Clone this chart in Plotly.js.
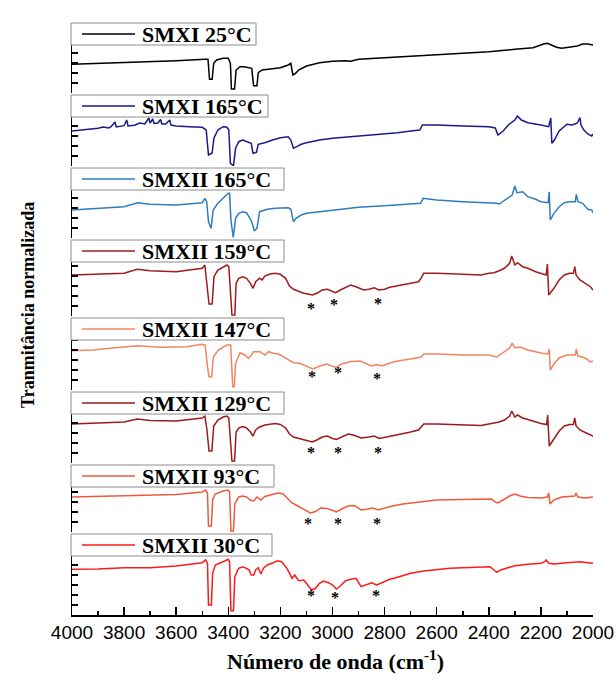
<!DOCTYPE html>
<html><head><meta charset="utf-8">
<script src="https://cdn.plot.ly/plotly-3.0.1.min.js"></script>
<style>html,body{margin:0;padding:0;background:#fff}#chart{width:616px;height:686px}</style>
</head><body><div id="chart"></div>
<script>
// ---- data (wavenumber cm-1, normalized transmittance a.u.) ----
const labels = ["SMXI 25°C","SMXI 165°C","SMXII 165°C","SMXII 159°C","SMXII 147°C","SMXII 129°C","SMXII 93°C","SMXII 30°C"];

const wn1 = [4000,3800,3600,3490,3478,3472,3462,3456,3445,3420,3400,3392,3388,3376,3370,3355,3340,3310,3303,3290,3285,3270,3240,3200,3170,3160,3152,3142,3130,3100,3050,3000,2950,2930,2900,2800,2700,2600,2500,2400,2300,2230,2190,2175,2160,2140,2120,2100,2060,2040,2020,2000];
const t1 = [2.87,3.03,3.23,3.37,3.37,1.37,1.37,2.97,3.3,3.47,3.47,2.97,0.4,0.4,2.3,2.63,2.63,2.47,0.73,0.73,2.03,2.3,2.37,2.53,2.8,2.97,1.8,1.97,2.3,2.7,3.03,3.17,3.23,3.17,3.37,3.53,3.7,3.87,4.03,4.13,4.37,4.53,4.9,4.97,4.8,4.57,4.47,4.53,4.7,4.9,4.9,4.8];

const wn2 = [4000,3950,3900,3880,3860,3850,3835,3830,3800,3790,3785,3760,3740,3720,3705,3700,3690,3685,3670,3660,3655,3640,3625,3620,3600,3550,3500,3485,3476,3462,3455,3440,3420,3405,3398,3392,3380,3372,3360,3345,3330,3312,3305,3292,3285,3260,3230,3200,3170,3160,3150,3138,3120,3100,3050,3000,2950,2900,2850,2800,2750,2700,2665,2655,2600,2500,2400,2375,2365,2345,2325,2300,2290,2275,2250,2200,2170,2162,2158,2148,2130,2100,2080,2060,2050,2046,2035,2020,2005,2000];
const t2 = [3.5,3.6,3.77,3.9,3.8,3.93,4.4,3.9,4.03,4.6,4.0,4.07,4.3,4.2,4.8,4.3,4.7,4.25,4.3,4.65,4.2,4.2,4.6,4.1,4.0,3.93,3.87,3.6,1.1,1.3,2.8,3.6,3.93,3.87,3.6,0.27,0.03,1.77,2.43,2.6,2.43,2.27,1.27,1.37,2.17,2.33,2.6,2.83,2.93,2.6,1.77,1.93,2.17,2.33,2.6,2.77,2.87,3.03,3.1,3.2,3.33,3.5,3.6,4.1,4.1,4.0,3.93,3.8,3.1,3.5,4.1,4.6,5.0,4.6,4.33,4.1,3.93,4.8,2.27,2.6,3.5,4.17,4.1,4.3,4.85,4.1,3.6,3.2,3.0,3.2];

const wn3 = [4000,3900,3800,3748,3700,3600,3500,3490,3483,3476,3466,3458,3440,3420,3400,3395,3390,3381,3372,3360,3345,3330,3310,3300,3290,3280,3250,3220,3180,3170,3160,3150,3140,3120,3100,3050,3000,2950,2900,2800,2700,2662,2652,2600,2500,2400,2370,2360,2330,2310,2300,2292,2270,2250,2220,2200,2172,2168,2164,2150,2130,2110,2090,2068,2064,2058,2040,2020,2005,2000];
const t3 = [2.8,2.97,3.13,3.53,3.37,3.3,3.53,3.97,3.63,1.63,0.97,2.8,3.47,3.97,4.47,4.47,1.8,0.07,1.97,2.47,2.63,2.53,1.63,0.7,0.97,2.63,2.87,2.97,2.97,3.03,2.87,1.63,1.97,2.3,2.47,2.63,2.8,2.97,3.07,3.23,3.37,3.47,3.97,3.8,3.63,3.53,3.47,3.4,3.97,4.3,5.2,4.53,4.63,4.13,3.87,3.63,3.53,4.63,1.8,2.47,3.13,3.53,3.63,3.63,4.37,3.63,3.47,2.87,2.8,2.53];

const wn4 = [4000,3900,3800,3750,3700,3600,3500,3490,3482,3474,3462,3455,3440,3420,3405,3398,3392,3386,3375,3370,3360,3345,3330,3315,3305,3295,3280,3270,3260,3240,3220,3200,3180,3165,3150,3130,3110,3090,3078,3060,3040,3020,3000,2988,2970,2950,2930,2910,2880,2860,2840,2822,2800,2780,2750,2700,2670,2660,2650,2600,2500,2430,2400,2380,2360,2340,2320,2312,2300,2290,2270,2250,2220,2200,2180,2175,2170,2150,2130,2110,2090,2075,2070,2065,2050,2030,2010,2000];
const t4 = [4.1,4.2,4.27,4.67,4.53,4.43,4.77,5.1,3.3,1.2,1.2,3.93,4.6,4.93,5.1,4.93,2.6,0.1,0.1,3.27,3.77,3.93,3.77,3.27,2.77,3.43,3.77,3.6,4.0,4.2,4.27,4.17,3.77,3.0,2.67,2.43,2.27,2.17,2.1,2.27,2.6,2.67,2.43,2.33,2.6,2.87,3.1,2.93,2.6,2.67,2.83,2.6,2.67,2.87,3.0,3.27,3.43,3.77,4.27,4.27,4.17,4.1,4.27,4.33,4.53,4.77,5.27,6.0,5.1,5.33,4.93,4.77,4.43,4.27,4.1,5.2,2.1,2.77,3.6,4.1,4.27,4.27,4.93,4.1,3.6,3.27,2.93,2.6];

const wn5 = [4000,3918,3854,3747,3662,3560,3502,3489,3480,3474,3464,3457,3438,3406,3391,3387,3383,3377,3372,3355,3336,3323,3314,3304,3278,3259,3246,3227,3208,3189,3170,3150,3125,3099,3076,3048,3022,3003,2987,2965,2933,2894,2870,2850,2830,2810,2780,2750,2700,2660,2650,2600,2500,2400,2370,2340,2320,2310,2300,2280,2250,2200,2172,2168,2164,2150,2130,2100,2068,2064,2058,2030,2010,2000];
const t5 = [3.93,4.0,4.17,4.43,4.27,4.33,4.57,4.5,2.33,1.33,1.33,3.33,4.0,4.5,4.5,2.0,0.33,0.33,2.67,3.73,3.5,3.17,3.4,3.83,3.83,3.5,3.83,3.67,3.6,3.33,3.0,2.73,2.67,2.33,2.1,2.4,2.6,2.4,2.27,2.6,2.83,2.9,2.6,2.4,2.55,2.4,2.7,2.9,3.1,3.3,3.6,3.6,3.5,3.5,3.3,3.8,4.2,4.7,4.2,4.3,4.0,3.7,3.6,4.1,2.0,2.6,3.2,3.5,3.5,4.1,3.4,3.2,2.8,2.9];

const wn6 = [4000,3900,3800,3750,3700,3600,3500,3490,3482,3474,3463,3456,3440,3420,3405,3398,3392,3386,3376,3370,3360,3345,3330,3315,3305,3295,3280,3260,3220,3200,3180,3165,3150,3120,3090,3078,3060,3040,3020,3000,2985,2965,2940,2920,2890,2860,2840,2820,2800,2780,2750,2700,2670,2660,2650,2600,2500,2430,2400,2360,2340,2320,2312,2300,2290,2270,2250,2220,2200,2178,2174,2168,2150,2130,2110,2090,2075,2070,2065,2050,2030,2010,2000];
const t6 = [3.9,4.0,4.1,4.4,4.25,4.2,4.5,4.7,3.3,1.2,1.2,3.7,4.3,4.6,4.7,4.5,2.3,0.2,0.2,3.1,3.5,3.65,3.5,3.1,2.7,3.3,3.6,3.8,3.95,3.85,3.5,2.9,2.6,2.4,2.2,2.1,2.3,2.6,2.7,2.45,2.35,2.6,2.9,2.8,2.5,2.6,2.7,2.45,2.55,2.7,2.85,3.1,3.3,3.6,3.9,3.9,3.8,3.75,3.9,4.1,4.3,4.7,5.2,4.6,4.8,4.5,4.35,4.1,3.95,3.85,4.8,1.7,2.4,3.2,3.7,3.85,3.85,4.5,3.7,3.3,3.05,2.8,2.7];

const wn7 = [4000,3900,3800,3700,3600,3500,3487,3480,3476,3465,3460,3450,3420,3400,3395,3390,3380,3375,3360,3345,3330,3315,3302,3290,3275,3260,3230,3210,3190,3170,3155,3140,3120,3100,3085,3065,3045,3020,3000,2985,2965,2940,2915,2890,2865,2845,2825,2800,2770,2730,2700,2650,2600,2500,2420,2390,2375,2365,2345,2320,2300,2280,2250,2200,2175,2170,2165,2150,2120,2090,2070,2065,2058,2030,2000];
const t7 = [3.5,3.55,3.65,3.7,3.75,4.0,4.2,3.9,0.6,0.6,3.2,3.8,4.1,4.2,4.0,0.1,0.1,2.8,3.5,3.6,3.5,3.2,3.1,3.5,3.2,3.55,3.8,3.9,3.8,3.3,2.9,2.7,2.4,2.1,1.9,2.05,2.4,2.35,2.15,2.0,2.3,2.6,2.65,2.2,2.3,2.4,2.2,2.4,2.6,2.8,2.9,3.1,3.2,3.25,3.3,3.3,3.0,2.9,3.2,3.6,3.8,3.6,3.45,3.4,3.5,3.9,2.8,3.2,3.5,3.6,3.6,3.9,3.5,3.4,3.5];

const wn8 = [4000,3900,3800,3700,3600,3500,3487,3480,3476,3465,3460,3450,3420,3400,3395,3390,3380,3375,3360,3345,3330,3320,3312,3302,3295,3285,3275,3265,3250,3230,3210,3195,3175,3165,3155,3145,3130,3110,3095,3080,3065,3050,3035,3015,3000,2985,2970,2950,2930,2910,2890,2870,2850,2830,2815,2800,2780,2750,2720,2700,2650,2600,2550,2500,2450,2410,2395,2380,2370,2355,2330,2300,2250,2200,2185,2180,2170,2150,2100,2050,2020,2000];
const t8 = [4.57,4.6,4.73,4.73,4.9,5.23,5.5,5.17,1.0,1.0,4.17,5.0,5.33,5.57,5.33,0.43,0.43,3.83,4.67,4.83,4.67,4.5,4.0,4.0,4.5,4.73,4.1,4.67,5.0,5.23,5.43,5.33,4.67,4.17,3.67,4.0,3.43,3.5,3.0,2.5,2.67,3.17,3.4,3.23,3.0,2.6,2.9,3.43,3.57,3.67,2.83,3.0,3.23,3.0,3.17,3.33,3.57,3.77,4.0,4.17,4.4,4.57,4.67,4.73,4.77,4.77,4.83,4.5,4.27,4.5,4.67,4.93,5.07,5.17,5.33,5.5,5.17,5.1,5.23,5.33,5.23,5.17];

// asterisk-marked bands (panel index, wavenumber, position)
const starPanel = [3,3,3,4,4,4,5,5,5,6,6,6,7,7,7];
const starWn = [3082,2993,2826,3078,2980,2830,3082,2979,2825,3094,2979,2829,3082,2992,2833];
const starT  = [0.8,1.2,1.3,1.33,1.73,1.2,1.1,1.1,1.1,0.9,0.9,0.9,2.0,1.8,2.0];

const xTicks = [4000,3800,3600,3400,3200,3000,2800,2600,2400,2200,2000];

// ---- styles / layout geometry ----
const colors = ["#000000","#1a1a8f","#2f7dbf","#a01c1c","#f2845f","#9b1b1b","#f05a3c","#ff1a1a"];
const W=616,H=686,ML=72,MR=23,MT=20,MB=71;
const plotW=W-ML-MR, plotH=H-MT-MB;
const px2x = p => (p-ML)/plotW;
const py2y = p => (H-MB-p)/plotH;
const panelTop = [23,95,168,240,318,392,465,534];
const panelBot = [93,166,238,316,390,463,532,615];
const boxRight = [256,268,284,284,284,284,274,272];

const wns=[wn1,wn2,wn3,wn4,wn5,wn6,wn7,wn8];
const ts=[t1,t2,t3,t4,t5,t6,t7,t8];
const yName = i => i===0 ? 'y' : 'y'+(i+1);
const yKey = i => i===0 ? 'yaxis' : 'yaxis'+(i+1);

const traces = wns.map((w,i)=>({
  x:w, y:ts[i], type:'scatter', mode:'lines', name:labels[i],
  line:{color:colors[i], width:1.5}, xaxis:'x', yaxis:yName(i),
  showlegend:false, hoverinfo:'skip'
}));

const layout = {
  width:W, height:H, margin:{l:ML,r:MR,t:MT,b:MB},
  paper_bgcolor:'#fff', plot_bgcolor:'rgba(0,0,0,0)', showlegend:false,
  xaxis:{range:[4000,2000], anchor:'y8', domain:[0,1], showline:true, linecolor:'#000', linewidth:1.5,
    ticks:'inside', ticklen:8, tickwidth:1.5, tickcolor:'#000', tickvals:xTicks,
    minor:{ticks:'inside', ticklen:4, tickwidth:1.5, tickcolor:'#000', dtick:100},
    tickfont:{family:'Liberation Sans, Arial, sans-serif', size:19, color:'#000'},
    showgrid:false, zeroline:false, fixedrange:true},
  shapes:[], annotations:[]
};
for(let i=0;i<8;i++){
  layout[yKey(i)] = {domain:[py2y(panelBot[i]), py2y(panelTop[i])], range:[0,(panelBot[i]-panelTop[i])/10],
    anchor:'x', showline:true, linecolor:'#000', linewidth:1.5, ticks:'inside', ticklen:6, tickwidth:1.2,
    tickcolor:'#000', dtick:1, tick0:0, showticklabels:false, showgrid:false, zeroline:false, fixedrange:true};
  const top=panelTop[i];
  layout.shapes.push({type:'rect', xref:'paper', yref:'paper', x0:px2x(71), x1:px2x(boxRight[i]),
    y0:py2y(top), y1:py2y(top+22), fillcolor:'#fff', line:{color:'#8c8c8c', width:1}, layer:'above'});
  layout.shapes.push({type:'line', xref:'paper', yref:'paper', x0:px2x(82), x1:px2x(135),
    y0:py2y(top+11), y1:py2y(top+11), line:{color:colors[i], width:1.5}, layer:'above'});
  layout.annotations.push({xref:'paper', yref:'paper', x:px2x(140), y:py2y(top+11.5), xanchor:'left', yanchor:'middle',
    text:'<b>'+labels[i]+'</b>', showarrow:false,
    font:{family:'Liberation Serif, Times New Roman, serif', size:22, color:'#000'}});
}
starWn.forEach((w,k)=>{
  layout.annotations.push({xref:'x', yref:yName(starPanel[k]), x:w, y:starT[k], text:'<b>*</b>', showarrow:false,
    xanchor:'center', yanchor:'middle', font:{family:'Liberation Serif, serif', size:16, color:'#000'}});
});
layout.annotations.push({xref:'paper', yref:'paper', x:px2x(335), y:py2y(660), xanchor:'center', yanchor:'middle',
  text:'<b>Número de onda (cm<sup>-1</sup>)</b>', showarrow:false,
  font:{family:'Liberation Serif, Times New Roman, serif', size:22, color:'#000'}});
layout.annotations.push({xref:'paper', yref:'paper', x:px2x(28), y:py2y(305), xanchor:'center', yanchor:'middle',
  text:'<b>Tranmitância normalizada</b>', textangle:-90, showarrow:false,
  font:{family:'Liberation Serif, Times New Roman, serif', size:18, color:'#000'}});

Plotly.newPlot('chart', traces, layout, {staticPlot:true, displayModeBar:false});
</script></body></html>
